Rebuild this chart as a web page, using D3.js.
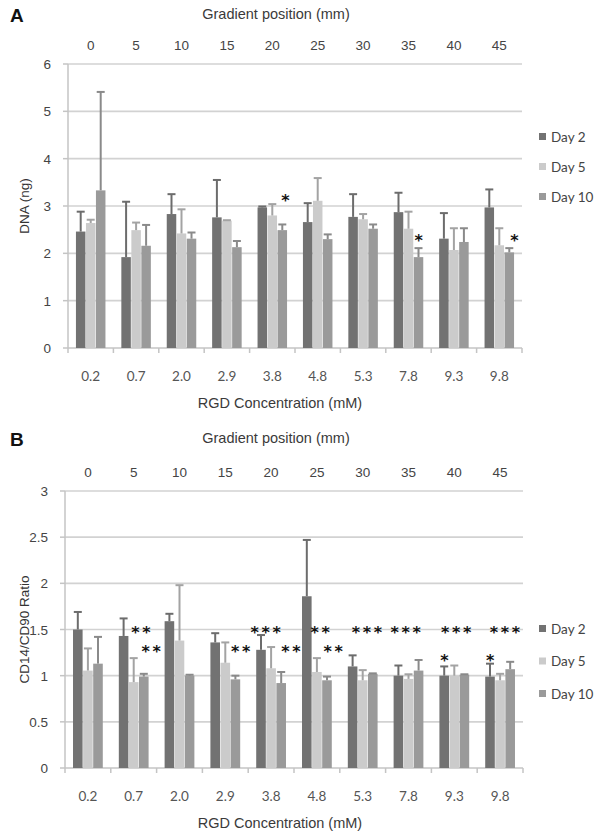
<!DOCTYPE html>
<html lang="en">
<head>
<meta charset="utf-8">
<title>DNA content and CD14/CD90 ratio along the RGD gradient</title>
<script src="https://cdn.jsdelivr.net/npm/d3@7"></script>
<style>
body { margin: 0; background: #fff; }
text { font-family: "Liberation Sans", Arial, sans-serif; }
.cat, .legend { font-family: Lato, "Open Sans", sans-serif; }
.star { font-family: "DejaVu Sans", sans-serif; }
</style>
</head>
<body>
<div id="chart"></div>
<script>
// categories (RGD concentration, mM) and matching gradient positions (mm)
var categories = ["0.2", "0.7", "2.0", "2.9", "3.8", "4.8", "5.3", "7.8", "9.3", "9.8"];
var gradientPos = [0, 5, 10, 15, 20, 25, 30, 35, 40, 45];
var series = ["Day 2", "Day 5", "Day 10"];

// panel A: DNA (ng), mean and upper error
var dnaDay2 = [2.46, 1.92, 2.83, 2.76, 2.97, 2.66, 2.77, 2.87, 2.31, 2.97];
var dnaDay5 = [2.64, 2.49, 2.42, 2.69, 2.80, 3.11, 2.72, 2.52, 2.07, 2.17];
var dnaDay10 = [3.33, 2.16, 2.31, 2.13, 2.49, 2.30, 2.52, 1.92, 2.24, 2.02];
var dnaErr2 = [0.42, 1.17, 0.42, 0.79, 0.02, 0.40, 0.48, 0.41, 0.54, 0.38];
var dnaErr5 = [0.07, 0.16, 0.51, 0.01, 0.24, 0.48, 0.11, 0.36, 0.46, 0.36];
var dnaErr10 = [2.08, 0.44, 0.13, 0.13, 0.12, 0.10, 0.09, 0.19, 0.29, 0.09];

// panel B: CD14/CD90 ratio
var ratioDay2 = [1.50, 1.43, 1.59, 1.36, 1.28, 1.86, 1.10, 1.00, 1.00, 0.99];
var ratioDay5 = [1.055, 0.93, 1.38, 1.14, 1.08, 1.04, 0.95, 0.965, 1.00, 0.95];
var ratioDay10 = [1.13, 0.99, 1.00, 0.96, 0.92, 0.95, 1.02, 1.055, 1.01, 1.07];
var ratioErr2 = [0.19, 0.19, 0.08, 0.10, 0.16, 0.61, 0.12, 0.11, 0.10, 0.14];
var ratioErr5 = [0.24, 0.26, 0.60, 0.22, 0.23, 0.15, 0.11, 0.05, 0.11, 0.07];
var ratioErr10 = [0.29, 0.03, 0.01, 0.04, 0.12, 0.04, 0.005, 0.115, 0.005, 0.08];

// significance marks: category, bar slot (0 = Day 2 .. 2 = Day 10), value level
var dnaStars = [
    {cat: "3.8", slot: 2.3, level: 3.2, n: 1},
    {cat: "7.8", slot: 2.0, level: 2.34, n: 1},
    {cat: "9.8", slot: 2.5, level: 2.34, n: 1}
];
var ratioStars = [
    {cat: "0.7", slot: 1.7, level: 1.51, n: 2},
    {cat: "0.7", slot: 2.7, level: 1.30, n: 2},
    {cat: "2.9", slot: 2.5, level: 1.30, n: 2},
    {cat: "3.8", slot: 0.45, level: 1.51, n: 3},
    {cat: "3.8", slot: 2.95, level: 1.30, n: 2},
    {cat: "4.8", slot: 1.3, level: 1.51, n: 2},
    {cat: "4.8", slot: 2.6, level: 1.30, n: 2},
    {cat: "5.3", slot: 1.4, level: 1.51, n: 3},
    {cat: "7.8", slot: 0.7, level: 1.51, n: 3},
    {cat: "9.3", slot: 1.15, level: 1.51, n: 3},
    {cat: "9.3", slot: 0, level: 1.20, n: 1},
    {cat: "9.8", slot: 1.45, level: 1.51, n: 3},
    {cat: "9.8", slot: 0, level: 1.20, n: 1}
];

var barColors = ["#727272", "#cbcbcb", "#9a9a9a"];
var errColors = ["#6c6c6c", "#a3a3a3", "#8a8a8a"];

var svg = d3.select("#chart").append("svg")
    .attr("width", 604)
    .attr("height", 838);

function panel(p) {
    var g = svg.append("g");
    var x = d3.scaleBand().domain(categories)
        .range([p.left, p.right]).paddingInner(0.35).paddingOuter(0.175);
    var xs = d3.scaleBand().domain(series)
        .range([0, x.bandwidth()]).paddingInner(0.05);
    var y = d3.scaleLinear().domain([0, p.ymax]).range([p.bottom, p.top]);
    var ticks = d3.range(0, p.ymax + 1e-9, p.step);
    var gx = d3.scaleLinear().domain([0, 45])
        .range([x(categories[0]) + x.bandwidth() / 2, x(categories[9]) + x.bandwidth() / 2]);

    // panel letter and titles
    g.append("text").attr("x", 10).attr("y", p.letterY)
        .attr("font-size", 19).attr("font-weight", "bold").attr("fill", "#111")
        .text(p.letter);
    g.append("text").attr("x", 276).attr("y", p.letterY - 3)
        .attr("text-anchor", "middle").attr("font-size", 14.5).attr("fill", "#3a3a3a")
        .text("Gradient position (mm)");
    g.selectAll(".gp").data(gradientPos).join("text")
        .attr("x", d => gx(d)).attr("y", p.top - 14)
        .attr("text-anchor", "middle").attr("font-size", 13.5).attr("fill", "#444")
        .text(d => d);

    // gridlines
    g.selectAll(".grid").data(ticks.filter(t => t > 0)).join("line")
        .attr("x1", p.left).attr("x2", p.right)
        .attr("y1", d => y(d)).attr("y2", d => y(d))
        .attr("stroke", "#d2d2d2").attr("stroke-width", 1.6);

    // y axis
    g.append("line").attr("x1", p.left).attr("x2", p.left)
        .attr("y1", p.top).attr("y2", p.bottom)
        .attr("stroke", "#c4c4c4").attr("stroke-width", 1.5);
    g.selectAll(".yt").data(ticks).join("line")
        .attr("x1", p.left - 5).attr("x2", p.left)
        .attr("y1", d => y(d)).attr("y2", d => y(d))
        .attr("stroke", "#c4c4c4").attr("stroke-width", 1.5);
    g.selectAll(".yl").data(ticks).join("text")
        .attr("x", p.left - 17).attr("y", d => y(d) + 5)
        .attr("text-anchor", "end").attr("font-size", 13.5).attr("fill", "#444")
        .text(d => String(d));
    g.append("text")
        .attr("transform", "translate(29," + ((p.top + p.bottom) / 2) + ") rotate(-90)")
        .attr("text-anchor", "middle").attr("font-size", 13.5).attr("fill", "#333")
        .text(p.yTitle);

    // x axis with ticks on category boundaries
    g.append("line").attr("x1", p.left).attr("x2", p.right)
        .attr("y1", p.bottom).attr("y2", p.bottom)
        .attr("stroke", "#c4c4c4").attr("stroke-width", 1.5);
    g.selectAll(".xt").data(d3.range(categories.length + 1)).join("line")
        .attr("x1", i => p.left + i * x.step()).attr("x2", i => p.left + i * x.step())
        .attr("y1", p.bottom).attr("y2", p.bottom + 5)
        .attr("stroke", "#c4c4c4").attr("stroke-width", 1.5);
    g.selectAll(".cat").data(categories).join("text")
        .attr("class", "cat")
        .attr("x", d => x(d) + x.bandwidth() / 2).attr("y", p.bottom + 33)
        .attr("text-anchor", "middle").attr("font-size", 13.5).attr("fill", "#555")
        .text(d => d);
    g.append("text").attr("x", 280).attr("y", p.bottom + 60)
        .attr("text-anchor", "middle").attr("font-size", 14.5).attr("fill", "#3a3a3a")
        .text("RGD Concentration (mM)");

    // bars and upper error bars
    series.forEach(function (s, k) {
        var rows = categories.map((c, i) => ({cat: c, v: p.values[k][i], e: p.errors[k][i]}));
        g.selectAll(".bar" + k).data(rows).join("rect")
            .attr("x", d => x(d.cat) + xs(s)).attr("y", d => y(d.v))
            .attr("width", xs.bandwidth()).attr("height", d => p.bottom - y(d.v))
            .attr("fill", barColors[k]);
    });
    series.forEach(function (s, k) {
        var rows = categories.map((c, i) => ({cat: c, v: p.values[k][i], e: p.errors[k][i]}));
        var cx = d => x(d.cat) + xs(s) + xs.bandwidth() / 2;
        g.selectAll(".err" + k).data(rows).join("line")
            .attr("x1", cx).attr("x2", cx)
            .attr("y1", d => y(d.v)).attr("y2", d => y(d.v + d.e))
            .attr("stroke", errColors[k]).attr("stroke-width", 2);
        g.selectAll(".cap" + k).data(rows).join("line")
            .attr("x1", d => cx(d) - 4).attr("x2", d => cx(d) + 4)
            .attr("y1", d => y(d.v + d.e)).attr("y2", d => y(d.v + d.e))
            .attr("stroke", errColors[k]).attr("stroke-width", 2);
    });

    // asterisks
    p.stars.forEach(function (st) {
        var cx = x(st.cat) + (st.slot + 0.5) * xs.step();
        d3.range(st.n).forEach(function (j) {
            g.append("text").attr("class", "star")
                .attr("x", cx + (j - (st.n - 1) / 2) * 11)
                .attr("y", y(st.level) + 9)
                .attr("text-anchor", "middle").attr("font-size", 16)
                .attr("font-weight", "bold").attr("fill", "#111")
                .text("*");
        });
    });

    // legend
    series.forEach(function (s, k) {
        var ly = p.legendY + k * p.legendGap;
        g.append("rect").attr("x", 539).attr("y", ly - 4)
            .attr("width", 7).attr("height", 7).attr("fill", barColors[k]);
        g.append("text").attr("class", "legend")
            .attr("x", 551).attr("y", ly + 4.5)
            .attr("font-size", 13.5).attr("fill", "#444")
            .text(s);
    });
}

panel({
    letter: "A", letterY: 22,
    left: 68, right: 522, top: 64, bottom: 348,
    ymax: 6, step: 1, yTitle: "DNA (ng)",
    values: [dnaDay2, dnaDay5, dnaDay10],
    errors: [dnaErr2, dnaErr5, dnaErr10],
    stars: dnaStars,
    legendY: 137, legendGap: 30
});

panel({
    letter: "B", letterY: 446,
    left: 65, right: 523, top: 491, bottom: 768,
    ymax: 3, step: 0.5, yTitle: "CD14/CD90 Ratio",
    values: [ratioDay2, ratioDay5, ratioDay10],
    errors: [ratioErr2, ratioErr5, ratioErr10],
    stars: ratioStars,
    legendY: 629, legendGap: 32.5
});
</script>
</body>
</html>
